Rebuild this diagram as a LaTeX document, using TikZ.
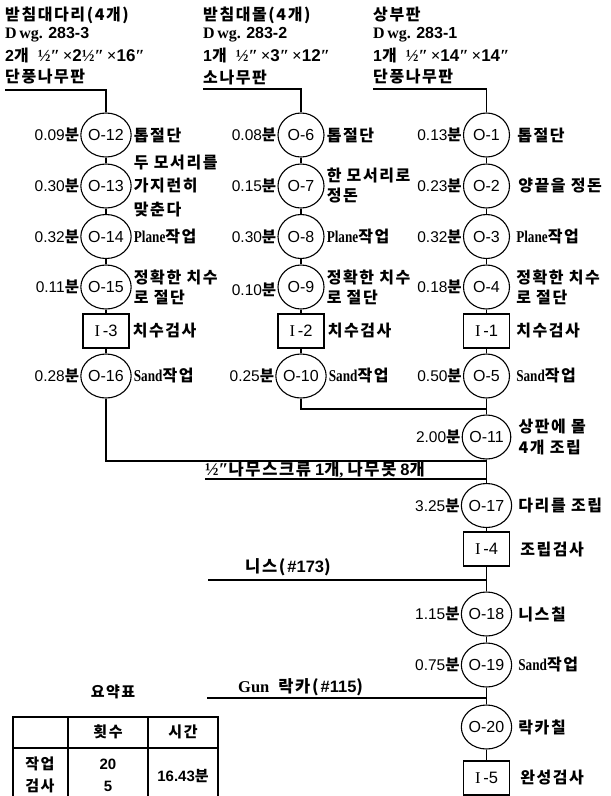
\documentclass[tikz,border=0pt]{standalone}
\usepackage{fontspec}
\setmainfont{Liberation Serif}
\newfontfamily\krf{Noto Sans CJK KR}[LetterSpace=10]
\newfontfamily\nmf{Liberation Sans}
\usetikzlibrary{shapes.geometric}
\newcommand\kor[1]{{\krf\bfseries #1}}
\newcommand\nmb[1]{{\nmf #1}}
\newcommand\lat[1]{\scalebox{0.8}[1]{\fontsize{16.5}{18}\selectfont\bfseries #1}}
\tikzset{
  ln/.style={line width=1.1pt},
  op/.style={draw, line width=1.1pt, ellipse, minimum width=46pt, minimum height=44pt, inner sep=0pt, font=\fontsize{16}{18}\selectfont\nmf},
  insp/.style={draw, line width=1.1pt, rectangle, minimum width=46pt, minimum height=34pt, inner sep=0pt, font=\fontsize{16.5}{18}\selectfont},
  tlab/.style={anchor=east, inner sep=0pt, font=\fontsize{15.5}{17}\selectfont},
  dlab/.style={anchor=west, inner sep=0pt, align=left, font=\fontsize{16}{20}\selectfont\bfseries},
  ttl/.style={anchor=west, inner sep=0pt, font=\fontsize{16}{18}\selectfont\bfseries},
  mat/.style={anchor=west, inner sep=0pt, font=\fontsize{16.5}{18}\selectfont\bfseries},
  cell/.style={inner sep=0pt, font=\fontsize{15}{18}\selectfont\bfseries},
}
\begin{document}
\begin{tikzpicture}[x=1pt,y=-1pt]
\useasboundingbox (0,0) rectangle (611,796);
\clip (0,0) rectangle (611,796);

% ---------- titles ----------
\node[ttl] (tl1) at (5,15) {\kor{받침대다리(4개)}};
\node[ttl] (tl2) at (5,35) {D\,wg. \nmb{283-3}};
\node[ttl] (tl3) at (5,55) {\nmb{2}\kor{개}\hspace{9pt}{\fontsize{17}{18}\selectfont ½″\,×\nmb{2}½″\,×\nmb{16}″}};
\node[ttl] (tl4) at (5,77) {\kor{단풍나무판}};

\node[ttl] (tm1) at (203,15) {\kor{받침대몰(4개)}};
\node[ttl] (tm2) at (203,35) {D\,wg. \nmb{283-2}};
\node[ttl] (tm3) at (203,55) {\nmb{1}\kor{개}\hspace{9pt}{\fontsize{17}{18}\selectfont ½″\,×\nmb{3}″\,×\nmb{12}″}};
\node[ttl] (tm4) at (203,77) {\kor{소나무판}};

\node[ttl] (tr1) at (373,15) {\kor{상부판}};
\node[ttl] (tr2) at (373,35) {D\,wg. \nmb{283-1}};
\node[ttl] (tr3) at (373,55) {\nmb{1}\kor{개}\hspace{9pt}{\fontsize{17}{18}\selectfont ½″\,×\nmb{14}″\,×\nmb{14}″}};
\node[ttl] (tr4) at (373,77) {\kor{단풍나무판}};

% ---------- left column ----------
\node[op] (O12) at (106,135) {O-12};
\node[op] (O13) at (106,186) {O-13};
\node[op] (O14) at (106,236.5) {O-14};
\node[op] (O15) at (106,287) {O-15};
\node[insp] (I3) at (106,331) {I\,\nmb{-3}};
\node[op] (O16) at (106,376) {O-16};

% ---------- middle column ----------
\node[op] (O6) at (301,135) {O-6};
\node[op] (O7) at (301,186) {O-7};
\node[op] (O8) at (301,236.5) {O-8};
\node[op] (O9) at (301,287) {O-9};
\node[insp] (I2) at (301,331) {I\,\nmb{-2}};
\node[op] (O10) at (301,376) {O-10};

% ---------- right / main column ----------
\node[op] (O1) at (486.5,135) {O-1};
\node[op] (O2) at (486.5,186) {O-2};
\node[op] (O3) at (486.5,236.5) {O-3};
\node[op] (O4) at (486.5,287) {O-4};
\node[insp] (I1) at (486.5,331) {I\,\nmb{-1}};
\node[op] (O5) at (486.5,376) {O-5};
\node[op] (O11) at (486.5,437) {O-11};
\node[op] (O17) at (486.5,505.5) {O-17};
\node[insp] (I4) at (486.5,549) {I\,\nmb{-4}};
\node[op] (O18) at (486.5,614) {O-18};
\node[op] (O19) at (486.5,665) {O-19};
\node[op] (O20) at (486.5,727) {O-20};
\node[insp] (I5) at (486.5,778) {I\,\nmb{-5}};

% ---------- coordinates ----------
\coordinate (L0) at (5,90);
\coordinate (M0) at (203,89);
\coordinate (R0) at (373,89);
\coordinate (MJ) at (486.5,409);
\coordinate (LJ) at (486.5,461);
\coordinate (m1) at (205,479);
\coordinate (m1e) at (486.5,479);
\coordinate (m2) at (208,580);
\coordinate (m2e) at (486.5,580);
\coordinate (m3) at (207,698);
\coordinate (m3e) at (486.5,698);

% ---------- connectors ----------
\draw[ln] (L0) -| (O12.north);
\draw[ln] (M0) -| (O6.north);
\draw[ln] (R0) -| (O1.north);
\foreach \a/\b in {O12/O13,O13/O14,O14/O15,O15/I3,I3/O16,
                   O6/O7,O7/O8,O8/O9,O9/I2,I2/O10,
                   O1/O2,O2/O3,O3/O4,O4/I1,I1/O5,O5/O11,
                   O11/O17,O17/I4,I4/O18,O18/O19,O19/O20,O20/I5}
  \draw[ln] (\a) -- (\b);
\draw[ln] (O16) |- (LJ);
\draw[ln] (O10) |- (MJ);
\draw[ln] (m1) -- (m1e);
\draw[ln] (m2) -- (m2e);
\draw[ln] (m3) -- (m3e);

% ---------- time labels ----------
\node[tlab] (t12) at ([xshift=-1pt]O12.west) {\nmb{0.09}\kor{분}};
\node[tlab] (t13) at ([xshift=-1pt]O13.west) {\nmb{0.30}\kor{분}};
\node[tlab] (t14) at ([xshift=-1pt]O14.west) {\nmb{0.32}\kor{분}};
\node[tlab] (t15) at ([xshift=-1pt]O15.west) {\nmb{0.11}\kor{분}};
\node[tlab] (t16) at ([xshift=-1pt]O16.west) {\nmb{0.28}\kor{분}};
\node[tlab] (t6) at ([xshift=-1pt]O6.west) {\nmb{0.08}\kor{분}};
\node[tlab] (t7) at ([xshift=-1pt]O7.west) {\nmb{0.15}\kor{분}};
\node[tlab] (t8) at ([xshift=-1pt]O8.west) {\nmb{0.30}\kor{분}};
\node[tlab] (t9) at ([xshift=-1pt,yshift=-3pt]O9.west) {\nmb{0.10}\kor{분}};
\node[tlab] (t10) at ([xshift=-1pt]O10.west) {\nmb{0.25}\kor{분}};
\node[tlab] (t1) at ([xshift=-1pt]O1.west) {\nmb{0.13}\kor{분}};
\node[tlab] (t2) at ([xshift=-1pt]O2.west) {\nmb{0.23}\kor{분}};
\node[tlab] (t3) at ([xshift=-1pt]O3.west) {\nmb{0.32}\kor{분}};
\node[tlab] (t4) at ([xshift=-1pt]O4.west) {\nmb{0.18}\kor{분}};
\node[tlab] (t5) at ([xshift=-1pt]O5.west) {\nmb{0.50}\kor{분}};
\node[tlab] (t11) at ([xshift=-1pt]O11.west) {\nmb{2.00}\kor{분}};
\node[tlab] (t17) at ([xshift=-1pt]O17.west) {\nmb{3.25}\kor{분}};
\node[tlab] (t18) at ([xshift=-1pt]O18.west) {\nmb{1.15}\kor{분}};
\node[tlab] (t19) at ([xshift=-1pt]O19.west) {\nmb{0.75}\kor{분}};

% ---------- descriptions ----------
\node[dlab] (d12) at ([xshift=2pt]O12.east) {\kor{톱절단}};
\node[dlab, font=\fontsize{16}{23.5}\selectfont\bfseries] (d13) at ([xshift=2pt]O13.east) {\kor{두 모서리를}\\\kor{가지런히}\\\kor{맞춘다}};
\node[dlab] (d14) at ([xshift=2pt]O14.east) {\lat{Plane}\kor{작업}};
\node[dlab] (d15) at ([xshift=2pt]O15.east) {\kor{정확한 치수}\\\kor{로 절단}};
\node[dlab] (d3i) at ([xshift=3pt]I3.east) {\kor{치수검사}};
\node[dlab] (d16) at ([xshift=2pt]O16.east) {\lat{Sand}\kor{작업}};

\node[dlab] (d6) at ([xshift=2pt]O6.east) {\kor{톱절단}};
\node[dlab] (d7) at ([xshift=2pt]O7.east) {\kor{한 모서리로}\\\kor{정돈}};
\node[dlab] (d8) at ([xshift=2pt]O8.east) {\lat{Plane}\kor{작업}};
\node[dlab] (d9) at ([xshift=2pt]O9.east) {\kor{정확한 치수}\\\kor{로 절단}};
\node[dlab] (d2i) at ([xshift=3pt]I2.east) {\kor{치수검사}};
\node[dlab] (d10) at ([xshift=2pt]O10.east) {\lat{Sand}\kor{작업}};

\node[dlab] (d1) at ([xshift=7pt]O1.east) {\kor{톱절단}};
\node[dlab] (d2) at ([xshift=8pt]O2.east) {\kor{양끝을 정돈}};
\node[dlab] (d3) at ([xshift=6pt]O3.east) {\lat{Plane}\kor{작업}};
\node[dlab] (d4) at ([xshift=6pt]O4.east) {\kor{정확한 치수}\\\kor{로 절단}};
\node[dlab] (d1i) at ([xshift=6pt]I1.east) {\kor{치수검사}};
\node[dlab] (d5) at ([xshift=6pt]O5.east) {\lat{Sand}\kor{작업}};
\node[dlab, font=\fontsize{16}{21}\selectfont\bfseries] (d11) at ([xshift=7pt]O11.east) {\kor{상판에 몰}\\\kor{4개 조립}};
\node[dlab] (d17) at ([xshift=6pt]O17.east) {\kor{다리를 조립}};
\node[dlab] (d4i) at ([xshift=10pt]I4.east) {\kor{조립검사}};
\node[dlab] (d18) at ([xshift=6pt]O18.east) {\kor{니스칠}};
\node[dlab] (d19) at ([xshift=6pt]O19.east) {\lat{Sand}\kor{작업}};
\node[dlab] (d20) at ([xshift=6pt]O20.east) {\kor{락카칠}};
\node[dlab] (d5i) at ([xshift=10pt]I5.east) {\kor{완성검사}};

% ---------- materials ----------
\node[mat] (mt1) at (205,470) {{\fontsize{18}{18}\selectfont ½″}\kor{나무스크류}\hspace{4pt}\nmb{1}\kor{개},\hspace{4pt}\kor{나무못}\hspace{4pt}\nmb{8}\kor{개}};
\node[mat] (mt2) at (245,567) {\kor{니스(}\hspace{2pt}\nmb{\#173}\kor{)}};
\node[mat] (mt3) at (238,687) {Gun\hspace{9pt}\kor{락카(}\hspace{2pt}\nmb{\#115}\kor{)}};

% ---------- summary table ----------
\node[cell] (sumt) at (113,692) {\kor{요약표}};
\draw[line width=1.2pt] (13,717) rectangle (218,810);
\draw[line width=1.2pt] (68,717) -- (68,810);
\draw[line width=1.2pt] (148,717) -- (148,810);
\draw[line width=1.2pt] (13,748) -- (218,748);
\node[cell] (h1) at (108,732) {\kor{횟수}};
\node[cell] (h2) at (183,732) {\kor{시간}};
\node[cell] (r1) at (40,764) {\kor{작업}};
\node[cell] (r1n) at (108,764) {\nmb{20}};
\node[cell] (r2) at (40,786) {\kor{검사}};
\node[cell] (r2n) at (108,786) {\nmb{5}};
\node[cell] (tot) at (183,776) {\nmb{16.43}\kor{분}};
\end{tikzpicture}
\end{document}
